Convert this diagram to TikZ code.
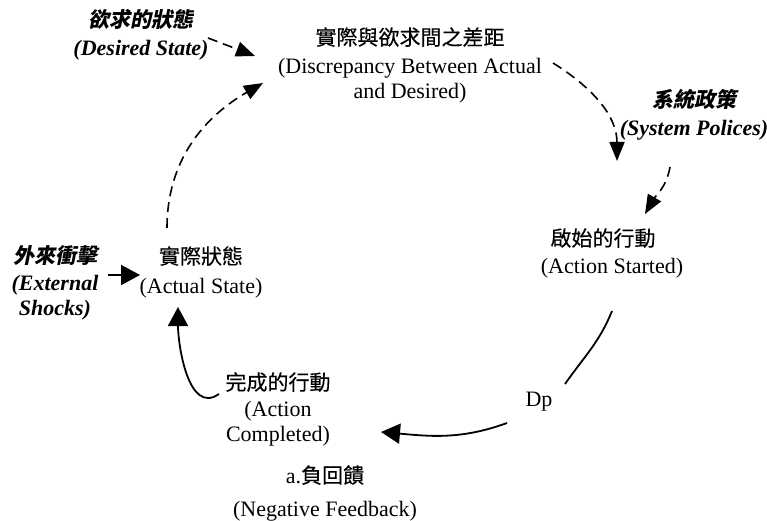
\documentclass[tikz,border=0pt]{standalone}
\usepackage{fontspec}
\setmainfont{Liberation Serif}
\newfontfamily\cjk{Noto Sans CJK TC}[FakeBold=0.3]
\newfontfamily\cjkit{Noto Sans CJK TC}[FakeSlant=0.2]
\usetikzlibrary{arrows.meta}
\begin{document}
\begin{tikzpicture}[x=1pt,y=1pt,
  lbl/.style={align=center,font=\fontsize{22}{25}\selectfont,inner sep=0pt},
  ital/.style={align=center,font=\fontsize{22}{25}\selectfont\bfseries\itshape,inner sep=0pt},
  conn/.style={line width=1.8pt,-{Triangle[length=19pt,width=20pt]}},
  dsh/.style={line width=1.6pt,-{Triangle[length=19pt,width=15pt]},dash pattern=on 10pt off 6pt}]
\path[use as bounding box] (0,0) rectangle (767,-521);

\node[ital] (desired) at (141,-35) {{\cjkit\fontsize{21}{25}\selectfont 欲求的狀態}\\[3pt](Desired State)};
\node[lbl] (disc) at (410,-65) {{\cjk\fontsize{21}{25}\selectfont 實際與欲求間之差距}\\[3pt](Discrepancy Between Actual\\and Desired)};
\node[ital] (sys) at (694,-115) {{\cjkit\fontsize{21}{25}\selectfont 系統政策}\\[3pt](System Polices)};
\node[lbl] (started) at (612,-253) {\hspace*{-18pt}{\cjk\fontsize{21}{25}\selectfont 啟始的行動}\\[2pt](Action Started)};
\node[lbl] (actual) at (201,-272) {{\cjk\fontsize{21}{25}\selectfont 實際狀態}\\[4pt](Actual State)};
\node[ital] (ext) at (55,-283) {{\cjkit\fontsize{21}{25}\selectfont 外來衝擊}\\[2pt](External\\Shocks)};
\node[lbl] (completed) at (278,-409) {{\cjk\fontsize{21}{25}\selectfont 完成的行動}\\[1pt](Action\\Completed)};
\node[lbl] (negfb) at (325,-493) {a.{\cjk\fontsize{21}{25}\selectfont 負回饋}\\[8pt](Negative Feedback)};
\node[lbl] (dp) at (539,-402) {Dp};

% connector end points
\coordinate (desOut) at (208,-38);
\coordinate (discIn1) at (255,-56);
\coordinate (actOut) at (167,-228);
\coordinate (discIn2) at (263,-83);
\coordinate (discOut) at (553,-63);
\coordinate (stIn1) at (617,-161);
\coordinate (sysOut) at (670,-167);
\coordinate (stIn2) at (645,-214);
\coordinate (extOut) at (108,-275);
\coordinate (actIn1) at (140,-275);
\coordinate (stOut) at (612,-311);
\coordinate (dpIn) at (565,-384);
\coordinate (dpOut) at (507,-423);
\coordinate (compIn) at (381,-432);
\coordinate (compOut) at (219,-394);
\coordinate (actIn2) at (178,-307);

\draw[dsh] (desOut) -- (discIn1);
\draw[dsh] (actOut) to[out=90,in=210] (discIn2);
\draw[dsh] (discOut) to[out=-32,in=90] (stIn1);
\draw[dsh] (sysOut) to[out=-100,in=60] (stIn2);
\draw[conn] (extOut) -- (actIn1);
\draw[line width=1.8pt] (stOut) to[out=-112,in=55] (dpIn);
\draw[conn] (dpOut) to[out=200,in=-5] (compIn);
\draw[conn] (compOut) to[out=215,in=270] (actIn2);
\end{tikzpicture}
\end{document}
